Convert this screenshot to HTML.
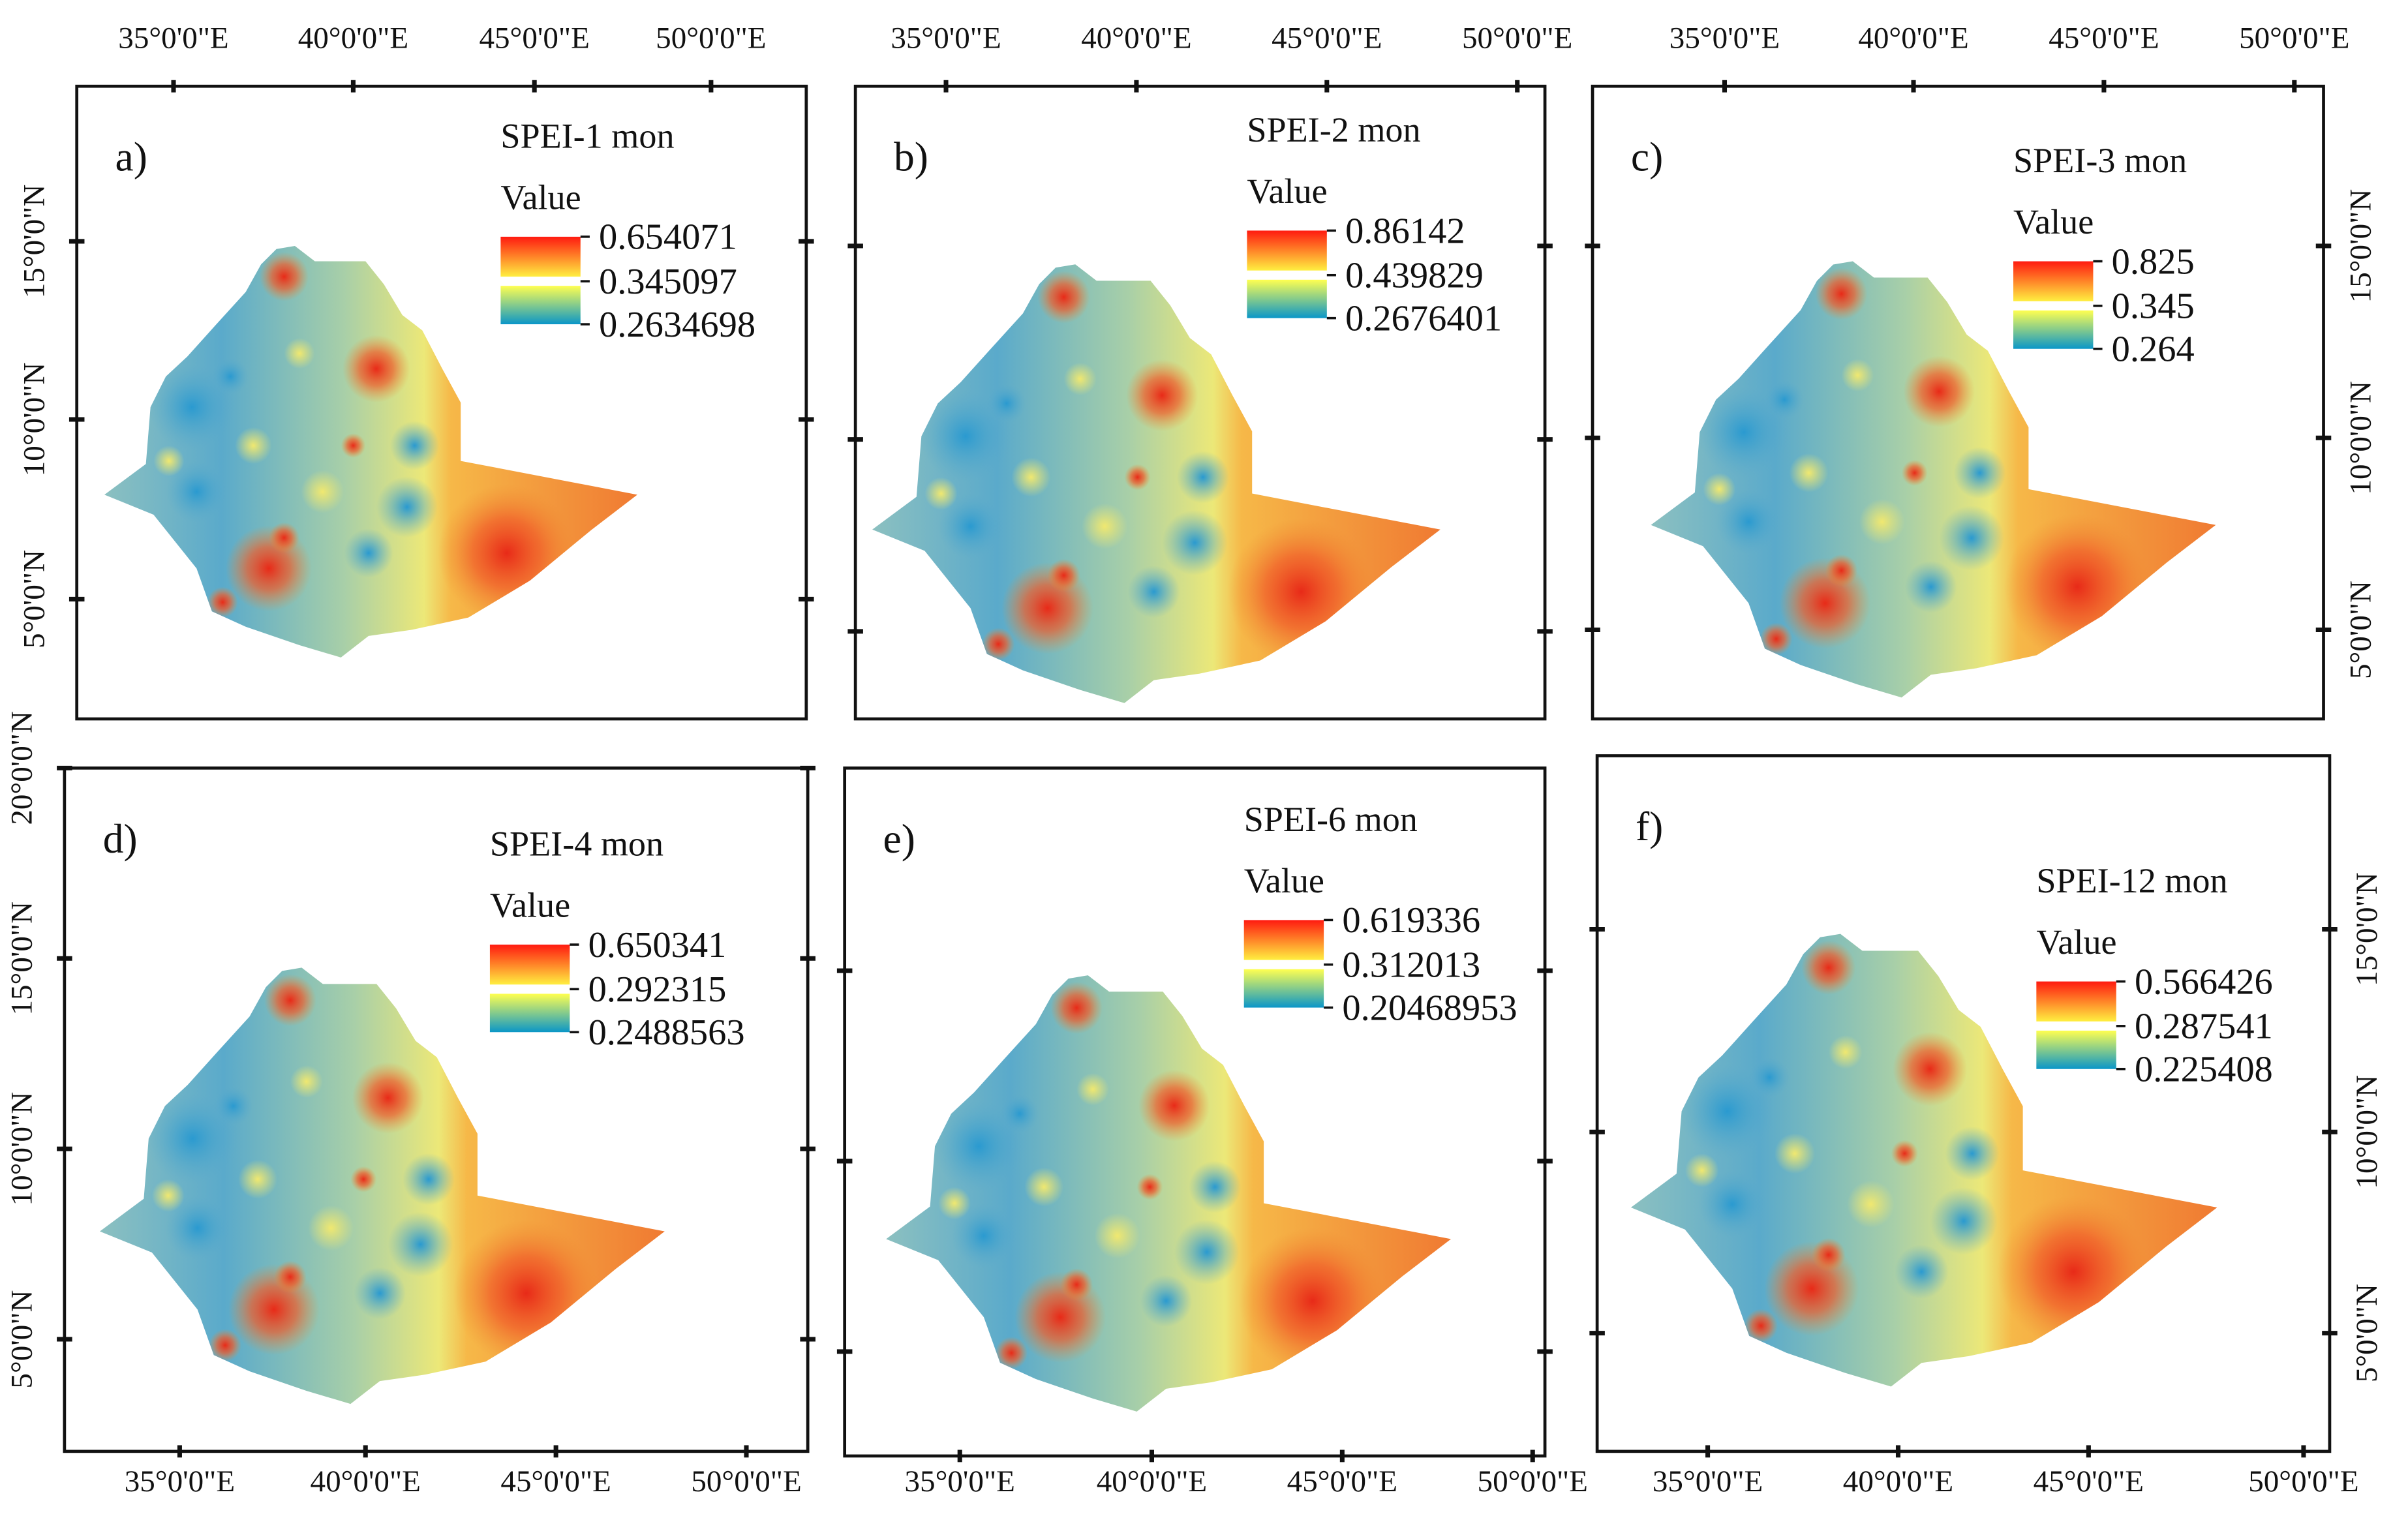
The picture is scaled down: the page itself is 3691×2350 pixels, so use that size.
<!DOCTYPE html>
<html><head><meta charset="utf-8"><style>
html,body{margin:0;padding:0;background:#fff}
svg{display:block}
text{font-family:"Liberation Serif",serif;fill:#111}
</style></head><body>
<svg id="fig" width="3691" height="2350" viewBox="0 0 1568 998" xmlns="http://www.w3.org/2000/svg">
<defs>
<linearGradient id="land" x1="0" y1="0" x2="1" y2="0">
<stop offset="0" stop-color="#8cc0c0"/><stop offset="0.22" stop-color="#5aaacb"/>
<stop offset="0.45" stop-color="#a8cfa8"/><stop offset="0.6" stop-color="#ece878"/>
<stop offset="0.65" stop-color="#f6b848"/><stop offset="1" stop-color="#f07a32"/>
</linearGradient>
<linearGradient id="legTop" x1="0" y1="0" x2="0" y2="1"><stop offset="0" stop-color="#ff1a10"/><stop offset="1" stop-color="#ffef40"/></linearGradient>
<linearGradient id="legBot" x1="0" y1="0" x2="0" y2="1"><stop offset="0" stop-color="#ffff50"/><stop offset="1" stop-color="#0a96c8"/></linearGradient>
<radialGradient id="hot"><stop offset="0" stop-color="#e82a18"/><stop offset="0.5" stop-color="#f05a28" stop-opacity="0.7"/><stop offset="1" stop-color="#f08a30" stop-opacity="0"/></radialGradient>
<radialGradient id="cold"><stop offset="0" stop-color="#2a9ad0"/><stop offset="1" stop-color="#5aaacc" stop-opacity="0"/></radialGradient>
<radialGradient id="yel"><stop offset="0" stop-color="#f0e870"/><stop offset="1" stop-color="#f0e870" stop-opacity="0"/></radialGradient>
</defs>
</svg>
<script>
const titles=["SPEI-1 mon","SPEI-2 mon","SPEI-3 mon","SPEI-4 mon","SPEI-6 mon","SPEI-12 mon"];
const letters=["a)","b)","c)","d)","e)","f)"];
const legendValues=[["0.654071","0.345097","0.2634698"],["0.86142","0.439829","0.2676401"],["0.825","0.345","0.264"],["0.650341","0.292315","0.2488563"],["0.619336","0.312013","0.20468953"],["0.566426","0.287541","0.225408"]];
const lonLabels=["35°0'0\"E","40°0'0\"E","45°0'0\"E","50°0'0\"E"];
const latLabels=["20°0'0\"N","15°0'0\"N","10°0'0\"N","5°0'0\"N"];
const P=[
{x:50,y:56,w:475,h:412,lon:[113,230,348,463],lonY:31,lat:[null,157,273,390],latSide:"left",sx:0,sy:0,s:1,lg:[326,88]},
{x:557,y:56,w:449,h:412,lon:[616,740,864,988],lonY:31,lat:[null,160,286,411],latSide:"none",sx:500,sy:12,s:1.066,lg:[812,84]},
{x:1037,y:56,w:476,h:412,lon:[1123,1246,1370,1494],lonY:31,lat:[null,160,285,410],latSide:"right",sx:1007,sy:10,s:1.06,lg:[1311,104]},
{x:42,y:500,w:484,h:445,lon:[117,238,362,486],lonY:971,lat:[500,624,748,872],latSide:"left",sx:-3,sy:470,s:1.06,lg:[319,549]},
{x:550,y:500,w:456,h:448,lon:[625,750,874,998],lonY:971,lat:[null,632,756,880],latSide:"none",sx:509,sy:475,s:1.06,lg:[810,533]},
{x:1040,y:492,w:477,h:453,lon:[1112,1236,1360,1500],lonY:971,lat:[null,605,737,868],latSide:"right",sx:994,sy:448,s:1.1,lg:[1326,573]}];
const shape=[[68,322],[95,302],[98,265],[108,245],[122,232],[140,212],[160,190],[170,172],[180,162],[192,160],[205,170],[238,170],[250,185],[262,205],[275,215],[288,240],[300,262],[300,300],[415,322],[385,345],[345,378],[305,402],[268,410],[240,414],[222,428],[195,420],[160,408],[138,398],[128,370],[100,335]];
const blobs=[[330,360,45,"h"],[185,180,16,"h"],[245,240,22,"h"],[175,370,28,"h"],[145,392,10,"h"],[125,265,28,"c"],[128,320,20,"c"],[270,290,16,"c"],[240,360,16,"c"],[185,350,10,"h"],[230,290,8,"h"],[150,245,12,"c"],[165,290,12,"y"],[195,230,10,"y"],[210,320,14,"y"],[110,300,10,"y"],[265,330,20,"c"]];
const NS="http://www.w3.org/2000/svg";
const svg=document.getElementById('fig');
function mk(t,a,parent){const e=document.createElementNS(NS,t);for(const k in a)e.setAttribute(k,a[k]);(parent||svg).appendChild(e);return e;}
P.forEach((p,i)=>{
 const g=mk('g',{});
 
 
 const fr=mk('rect',{x:p.x,y:p.y,width:p.w,height:p.h,fill:'none',stroke:'#111','stroke-width':2},g);
 
 
 const mg=mk('g',{transform:`translate(${p.sx},${p.sy}) translate(68,160) scale(${p.s}) translate(-68,-160)`},g);
 
 
 const cp=mk('clipPath',{id:'cp'+i},mg);
 mk('polygon',{points:shape.map(q=>q.join(',')).join(' ')},cp);
 mk('polygon',{points:shape.map(q=>q.join(',')).join(' '),fill:'url(#land)'},mg);
 const bg=mk('g',{'clip-path':`url(#cp${i})`},mg);
 blobs.forEach(b=>mk('circle',{cx:b[0],cy:b[1],r:b[2],fill:b[3]=="h"?"url(#hot)":b[3]=="c"?"url(#cold)":"url(#yel)"},bg));
 const tickY=i<3?p.y:p.y+p.h;
 p.lon.forEach((lx,k)=>{
  mk('line',{x1:lx,x2:lx,y1:tickY-4,y2:tickY+4,stroke:'#111','stroke-width':3},g);
  const t=mk('text',{x:lx,y:p.lonY,'font-size':20,'text-anchor':'middle'},g);t.textContent=lonLabels[k];
  
  
 });
 p.lat.forEach((ly,k)=>{
  if(ly===null)return;
  [p.x,p.x+p.w].forEach(fx=>mk('line',{x1:fx-5,x2:fx+5,y1:ly,y2:ly,stroke:'#111','stroke-width':3},g));
  if(p.latSide==="none")return;
  const tx=p.latSide==="left"?p.x-26:p.x+p.w+26;
  const t=mk('text',{x:tx,y:ly,'font-size':20,'text-anchor':'middle',transform:`rotate(-90 ${tx} ${ly})`,'dominant-baseline':'middle'},g);t.textContent=latLabels[k];
  
  
 });
 const lt=mk('text',{x:p.x+25,y:p.y+55,'font-size':27},g);lt.textContent=letters[i];
 
 
 const lx=p.lg[0],ly=p.lg[1];
 const lgG=mk('g',{},g);
 
 
 mk('text',{x:lx,y:ly+8,'font-size':23},lgG).textContent=titles[i];
 mk('text',{x:lx,y:ly+48,'font-size':23},lgG).textContent="Value";
 mk('rect',{x:lx,y:ly+66,width:52,height:26,fill:'url(#legTop)'},lgG);
 mk('rect',{x:lx,y:ly+98,width:52,height:25,fill:'url(#legBot)'},lgG);
 [ly+66,ly+95,ly+123].forEach((yy,k)=>{
  mk('line',{x1:lx+52,x2:lx+58,y1:yy,y2:yy,stroke:'#111','stroke-width':1.5},lgG);
  mk('text',{x:lx+64,y:yy+8,'font-size':24},lgG).textContent=legendValues[i][k];
 });
});
</script>
</body></html>
